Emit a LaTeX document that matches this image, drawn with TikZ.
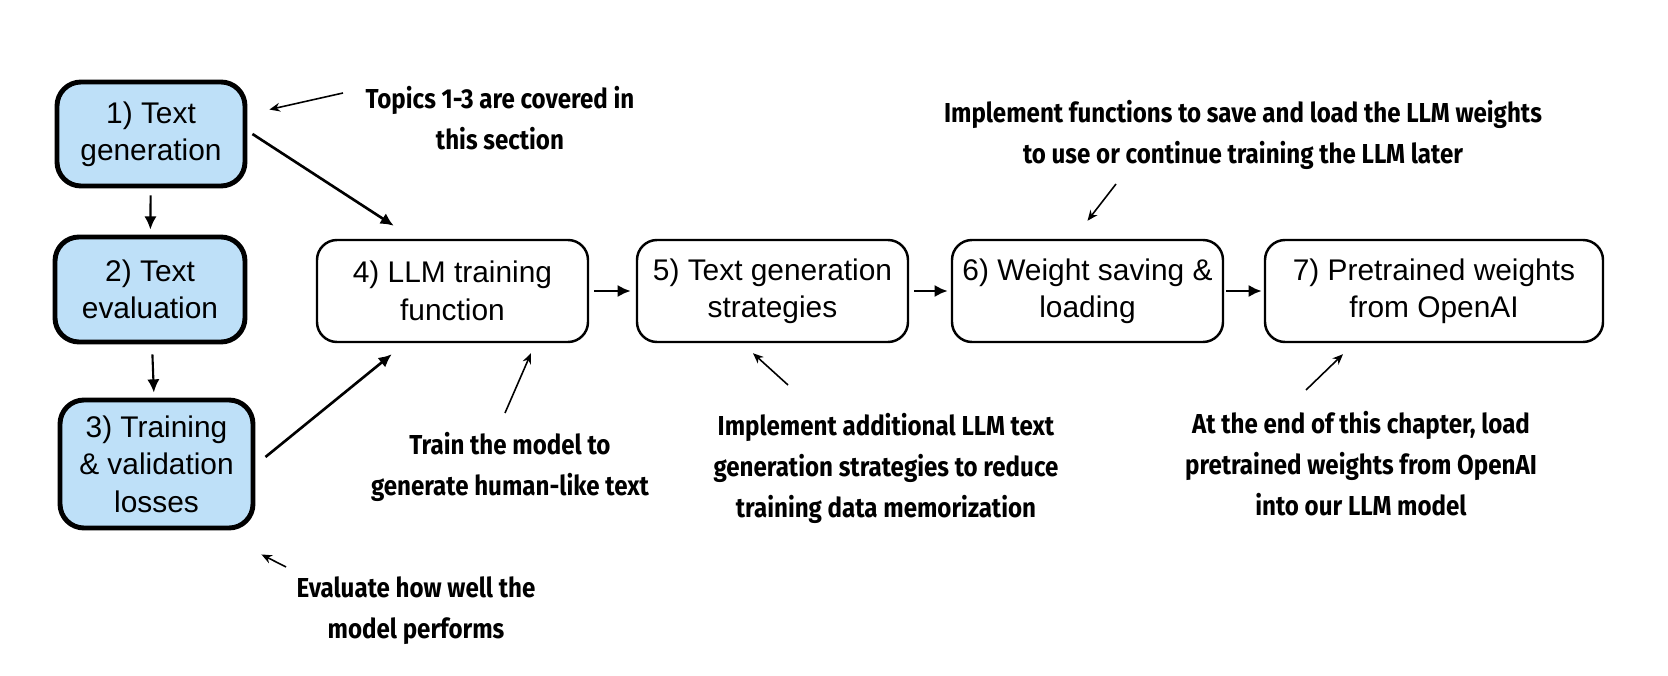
\documentclass[tikz,border=0pt]{standalone}
\usepackage{fontspec}
\setmainfont{Liberation Sans}
\newfontfamily\notefont{Fira Sans}[FakeStretch=0.88]
\usepackage{xcolor}
\usepackage{tikz}
\usetikzlibrary{arrows.meta, positioning}
\definecolor{topicblue}{RGB}{190,224,248}
\tikzset{
    topicbox/.style={draw, line width=2.8pt, rounded corners=0.48cm, fill=topicblue, align=center, inner sep=0pt, font=\fontsize{17}{21.3}\selectfont},
    stagebox/.style={draw, line width=1.4pt, rounded corners=0.4cm, align=center, inner sep=0pt, minimum width=5.42cm, minimum height=2.04cm, font=\fontsize{17}{21.3}\selectfont},
    flow/.style={-{Latex[length=7.5pt, width=7pt]}, line width=1.5pt},
    pointer/.style={-{Stealth[length=6pt, width=5pt]}, line width=0.9pt},
    note/.style={align=center, inner sep=0pt, font=\notefont\bfseries\fontsize{15.6}{23.3}\selectfont}
}

\begin{document}
\begin{tikzpicture}
    \useasboundingbox (0,0) rectangle (33.36,13.5);
    % === TOPICS OF THIS SECTION ===
    \node[topicbox, minimum width=3.76cm, minimum height=2.08cm] (gen) at (3.02,10.82) {1) Text\\generation};
    \node[topicbox, minimum width=3.8cm, minimum height=2.1cm] (eval) at (3.0,7.71) {2) Text\\evaluation};
    \node[topicbox, minimum width=3.86cm, minimum height=2.56cm] (loss) at (3.13,4.22) {3) Training\\\& validation\\losses};
    \draw[flow, line width=1.2pt, shorten <=0.14cm, shorten >=0.1cm] (gen) -- (eval);
    \draw[flow, line width=1.2pt, shorten <=0.2cm, shorten >=0.1cm] (eval) -- (loss);
    %
    % === PIPELINE ===
    \node[stagebox] (train) at (9.05,7.68) {4) LLM training\\function};
    \node[stagebox] (strat) at (15.45,7.68) {5) Text generation\\strategies};
    \node[stagebox] (save) at (21.75,7.68) {6) Weight saving \&\\loading};
    \node[stagebox, minimum width=6.76cm] (openai) at (28.68,7.68) {7) Pretrained weights\\from OpenAI};
    \draw[flow, shorten <=0.1cm, shorten >=0.1cm] (train) -- (strat);
    \draw[flow, shorten <=0.1cm, shorten >=0.06cm] (strat) -- (save);
    \draw[flow, shorten <=0.04cm, shorten >=0.04cm] (save) -- (openai);
    \draw[flow] ([xshift=0.1cm]gen.east) -- ([xshift=1.56cm, yshift=0.26cm]train.north west);
    \draw[flow] ([xshift=0.2cm, yshift=0.14cm]loss.east) -- ([xshift=1.52cm, yshift=-0.22cm]train.south west);
    %
    % === NOTES ===
    \node[note] (topicsnote) at (10.0,11.14) {Topics 1-3 are covered in\\this section};
    \node[note] (trainnote) at (10.2,4.16) {Train the model to\\generate human-like text};
    \node[note] (evalnote) at (8.32,1.28) {Evaluate how well the\\model performs};
    \node[note] (stratnote) at (17.72,4.14) {Implement additional LLM text\\generation strategies to reduce\\training data memorization};
    \node[note] (savenote) at (24.86,10.8) {Implement functions to save and load the LLM weights\\to use or continue training the LLM later};
    \node[note] (openainote) at (27.22,4.22) {At the end of this chapter, load\\pretrained weights from OpenAI\\into our LLM model};
    % pointers from the notes
    \coordinate (topicstail) at (6.86,11.64);
    \coordinate (traintail) at (10.1,5.24);
    \coordinate (evaltail) at (5.72,2.16);
    \coordinate (strattail) at (15.76,5.8);
    \coordinate (savetail) at (22.32,9.82);
    \coordinate (openaitail) at (26.12,5.7);
    \draw[pointer] (topicstail) -- ([xshift=0.44cm, yshift=-0.6cm]gen.north east);
    \draw[pointer] (traintail) -- ([xshift=1.57cm, yshift=-0.2cm]train.south);
    \draw[pointer] (evaltail) -- ([xshift=0.12cm, yshift=-0.48cm]loss.south east);
    \draw[pointer] (strattail) -- ([xshift=-0.39cm, yshift=-0.2cm]strat.south);
    \draw[pointer] (savetail) -- ([yshift=0.36cm]save.north);
    \draw[pointer] (openaitail) -- ([xshift=-1.82cm, yshift=-0.22cm]openai.south);
\end{tikzpicture}
\end{document}
